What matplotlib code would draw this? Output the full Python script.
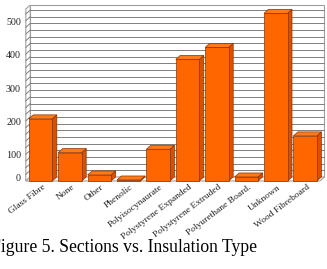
import matplotlib
matplotlib.use('Agg')
import matplotlib.pyplot as plt
from matplotlib.patches import Polygon, Rectangle
from matplotlib.transforms import offset_copy

plt.rcParams['font.family'] = ['Liberation Serif', 'DejaVu Serif']

# data
categories = ['Glass Fibre', 'None', 'Other', 'Phenolic', 'Polyisocynaurate',
              'Polystyrene Expanded', 'Polystyrene Extruded', 'Polyurethane Board.',
              'Unknown', 'Wood Fibreboard']
sections = [186, 85, 18, 3, 95, 364, 400, 12, 502, 135]
yticks = [0, 100, 200, 300, 400, 500]
ytick_labels = ['0', '100', '200', '300', '400', '500']
caption = 'Figure 5. Sections vs. Insulation Type'

# 3d look
dx, dy = 0.153, 12.0
front = '#FF6600'
top_c = '#FF7A1A'
side_c = '#D95000'
edge = '#8A3300'
wall = '#A0A0A0'
grid_c = '#808080'

fig = plt.figure(figsize=(3.27, 2.69), dpi=100)
ax = fig.add_axes([0.0682, 0.3123, 0.9297, 0.6729])
ax.set_xlim(-0.62, 9.72)
ax.set_ylim(-12, 530)
ax.axis('off')

n = len(categories)
x0, x1 = -0.5, n - 0.5
ytop = 527

# walls
ax.add_patch(Polygon([(x0, 0), (x0, ytop - dy), (x0 + dx, ytop), (x0 + dx, dy)],
                     closed=True, facecolor='white', edgecolor=wall, lw=0.8, zorder=1))
ax.add_patch(Polygon([(x0 + dx, dy), (x0 + dx, ytop), (x1 + dx, ytop), (x1 + dx, dy)],
                     closed=True, facecolor='white', edgecolor=wall, lw=0.8, zorder=1))
ax.add_patch(Polygon([(x0, 0), (x1, 0), (x1 + dx, dy), (x0 + dx, dy)],
                     closed=True, facecolor='white', edgecolor=wall, lw=0.8, zorder=1))

for g in range(20, 520, 20):
    ax.plot([x0, x0 + dx], [g, g + dy], color=grid_c, lw=0.7, zorder=2)
    ax.plot([x0 + dx, x1 + dx], [g + dy, g + dy], color=grid_c, lw=0.7, zorder=2)

# bars
w = 0.4
for i, v in enumerate(sections):
    ax.add_patch(Polygon([(i + w, 0), (i + w + dx, dy), (i + w + dx, v + dy), (i + w, v)],
                         closed=True, facecolor=side_c, edgecolor=edge, lw=0.5, zorder=3))
    ax.add_patch(Polygon([(i - w, v), (i + w, v), (i + w + dx, v + dy), (i - w + dx, v + dy)],
                         closed=True, facecolor=top_c, edgecolor=edge, lw=0.5, zorder=3))
    ax.add_patch(Rectangle((i - w, 0), 2 * w, v, facecolor=front, edgecolor=edge,
                           lw=0.5, zorder=4))

# y labels (Excel puts them a bit off the gridlines)
for v, lab in zip(yticks, ytick_labels):
    shift = 2 if v == 0 else -6
    tr = offset_copy(ax.transData, fig=fig, x=-3.5, y=shift, units='points')
    ax.text(x0, v, lab, transform=tr, ha='right', va='center', fontsize=7.2, color='#222222')

# x labels
for i, lab in enumerate(categories):
    tr = offset_copy(ax.transData, fig=fig, x=1, y=-1.5, units='points')
    ax.text(i, 0, lab, transform=tr, rotation=37, rotation_mode='anchor',
            ha='right', va='top', fontsize=6.8, color='#222222')

fig.text(-9 / 327, 17 / 269, caption, ha='left', va='baseline', fontsize=12.7, color='black')

fig.savefig('out.png', dpi=100)
